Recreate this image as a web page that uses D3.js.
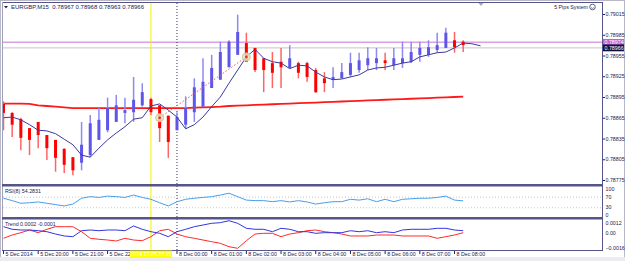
<!DOCTYPE html>
<html>
<head>
<meta charset="utf-8">
<script src="https://cdn.jsdelivr.net/npm/d3@7"></script>
<style>
body { margin: 0; background: #fff; }
svg text { font-family: "Liberation Sans", Arial, sans-serif; }
</style>
</head>
<body>
<svg id="chart" width="625" height="261"></svg>
<script>
// EURGBP M15, 5 Dec 19:00 .. 8 Dec 08:15
var opens = [0.78885,0.78872,0.78863,0.78850,0.78859,0.78840,0.78833,0.78820,0.78808,0.78800,
  0.78811,0.78833,0.78847,0.78859,0.78872,0.78873,0.78883,0.78892,0.78883,0.78868,
  0.78847,0.78855,0.78873,0.78881,0.78908,0.78920,0.78938,0.78956,0.78973,0.78966,
  0.78951,0.78944,0.78946,0.78937,0.78944,0.78944,0.78934,0.78922,0.78920,0.78922,
  0.78927,0.78934,0.78941,0.78944,0.78948,0.78941,0.78944,0.78946,0.78956,0.78956,
  0.78963,0.78966,0.78977,0.78975];
var highs = [0.78889,0.78873,0.78865,0.78850,0.78859,0.78840,0.78833,0.78821,0.78808,0.78859,
  0.78869,0.78879,0.78894,0.78898,0.78894,0.78924,0.78915,0.78894,0.78883,0.78868,
  0.78873,0.78896,0.78922,0.78951,0.78956,0.78975,0.78977,0.79014,0.78988,0.78966,
  0.78951,0.78960,0.78966,0.78970,0.78946,0.78946,0.78937,0.78931,0.78938,0.78944,
  0.78959,0.78959,0.78967,0.78966,0.78959,0.78966,0.78975,0.78975,0.78975,0.78977,
  0.78988,0.78995,0.78989,0.78977];
var lows = [0.78847,0.78837,0.78818,0.78811,0.78821,0.78804,0.78787,0.78785,0.78782,0.78789,
  0.78808,0.78833,0.78844,0.78859,0.78857,0.78859,0.78881,0.78869,0.78830,0.78807,
  0.78847,0.78850,0.78859,0.78881,0.78908,0.78920,0.78938,0.78956,0.78946,0.78931,
  0.78902,0.78908,0.78908,0.78937,0.78922,0.78917,0.78901,0.78902,0.78908,0.78922,
  0.78924,0.78930,0.78934,0.78934,0.78934,0.78934,0.78937,0.78944,0.78946,0.78953,
  0.78959,0.78966,0.78959,0.78960];
var closes = [0.78872,0.78855,0.78836,0.78833,0.78840,0.78821,0.78807,0.78797,0.78789,0.78826,
  0.78857,0.78862,0.78879,0.78883,0.78876,0.78891,0.78902,0.78873,0.78850,0.78830,
  0.78866,0.78879,0.78909,0.78917,0.78937,0.78960,0.78975,0.78989,0.78946,0.78934,
  0.78934,0.78930,0.78938,0.78951,0.78930,0.78924,0.78902,0.78915,0.78924,0.78931,
  0.78944,0.78948,0.78951,0.78951,0.78944,0.78951,0.78951,0.78960,0.78966,0.78967,
  0.78970,0.78988,0.78967,0.78970];

// fast MA is shifted 2 bars forward, so it has 2 more points
var fastMa = [0.78865,0.78866,0.78862,0.78855,0.78847,0.78846,0.78842,0.78834,0.78826,0.78811,
  0.78808,0.78821,0.78833,0.78843,0.78852,0.78863,0.78865,0.78882,0.78885,0.78876,
  0.78866,0.78849,0.78855,0.78866,0.78881,0.78895,0.78915,0.78934,0.78953,0.78964,
  0.78951,0.78946,0.78944,0.78936,0.78941,0.78940,0.78931,0.78924,0.78920,0.78921,
  0.78924,0.78927,0.78934,0.78937,0.78938,0.78941,0.78944,0.78946,0.78953,0.78956,
  0.78959,0.78960,0.78966,0.78973,0.78972,0.78969];
var slowMa = [0.788855,0.788855,0.788855,0.78885,0.78883,0.78882,0.78881,0.78880,0.78879,0.78879,
  0.78879,0.78879,0.78879,0.78879,0.78879,0.78879,0.78879,0.78879,0.78879,0.78879,
  0.78879,0.78879,0.788795,0.78880,0.788805,0.78881,0.78882,0.788825,0.78883,0.788835,
  0.78884,0.788845,0.78885,0.788855,0.78886,0.788865,0.78887,0.788875,0.78888,0.788885,
  0.78889,0.788895,0.78890,0.788905,0.78891,0.788915,0.78892,0.788925,0.78893,0.788935,
  0.78894,0.788945,0.78895,0.788955];

var rsi = [64,55,45,47,50,45,40,35,42,64,
  70,67,72,70,67,76,67,60,47,35,
  51,60,64,67,70,76,83,70,57,55,
  55,51,55,50,55,50,42,47,51,51,
  60,57,62,51,60,51,60,62,64,64,
  67,72,57,54.28];

var trendBlue = [0.00073,0.00044,0.00036,0.00036,0.00028,0.00017,-0.00009,-0.00031,-0.00039,0.00028,
  0.00036,0.00028,0.00036,0.00036,0.00028,0.00081,0.00044,0.00017,-0.00001,-0.00039,
  0.00017,0.00044,0.00073,0.00092,0.00111,0.00118,0.0014,0.00111,0.00055,0.00044,
  0.00044,0.00017,0.00055,0.00044,0.00017,0.00017,-0.00001,0.00006,0.00006,0.00006,
  0.00028,0.00017,0.00028,0.00006,0.00017,0.00006,0.00036,0.00044,0.00044,0.00044,
  0.00055,0.00055,0.00036,0.00028];
var trendRed = [-0.00057,-0.0002,0.00006,0.00036,0.00006,0.00044,0.00073,0.00073,0.00073,0.00017,
  -0.00057,-0.00068,-0.00076,-0.00087,-0.00057,-0.00076,-0.00084,-0.00039,0.00028,0.00044,
  -0.00009,-0.00039,-0.00057,-0.00076,-0.00095,-0.00113,-0.00151,-0.00169,-0.00084,-0.00009,
  -0.00001,-0.00001,-0.00039,-0.00009,0.00006,0.00028,0.00036,0.00017,0.00006,-0.00009,
  -0.00031,-0.00031,-0.00031,-0.0002,-0.0002,-0.0002,-0.00031,-0.00031,-0.00031,-0.00031,
  -0.00057,-0.00039,-0.0002,0.00006];

var signalIdx = [18, 28];
var signalPrice = [0.78865, 0.78953];

var priceTicks = [0.79015,0.78985,0.78955,0.78925,0.78895,0.78865,0.78835,0.78805,0.78775];
var rsiTicks = [100, 70, 30, 0];
var rsiLevels = [70, 30];
var trendTicks = [0.0012, 0, -0.0016];
// 5 Dec 23:00 sits under the cursor tag, so it is left out
var timeIdx = [0,4,8,12,20,24,28,32,36,40,44,48,52];
var timeText = ["5 Dec 2014","5 Dec 20:00","5 Dec 21:00","5 Dec 22:00",
  "8 Dec 00:00","8 Dec 01:00","8 Dec 02:00","8 Dec 03:00","8 Dec 04:00",
  "8 Dec 05:00","8 Dec 06:00","8 Dec 07:00","8 Dec 08:00"];

var askPrice = 0.78974, bidPrice = 0.78966;
var cursorIdx = 17, cursorText = "2014.12.05 23:15";
var dayIdx = 20;

var frame = "#55558a", ink = "#22224e", fs = "5.3px";
var left = 3, right = 602;
var mainTop = 3, mainBot = 184, rsiBot = 217, trBot = 250;

var svg = d3.select("#chart");

var x = d3.scaleLinear().domain([0, 53]).range([3.5, 463.2]);
var y = d3.scaleLinear().domain([0.78775, 0.79015]).range([180, 14]);
var yr = d3.scaleLinear().domain([0, 100]).range([215.2, 188.7]);
var yt = d3.scaleLinear().domain([-0.0016, 0.0012]).range([247.5, 222.5]);

// outer frame
svg.append("rect").attr("x", 0.5).attr("y", 0.5).attr("width", 624).attr("height", 260)
  .attr("fill", "#fff").attr("stroke", "#b8b8c8");
svg.append("rect").attr("x", 0).attr("y", 257).attr("width", 625).attr("height", 4).attr("fill", "#ececf0");

svg.append("clipPath").attr("id", "mainclip").append("rect")
  .attr("x", left).attr("y", mainTop).attr("width", right - left).attr("height", mainBot - mainTop);
svg.append("clipPath").attr("id", "timeclip").append("rect")
  .attr("x", 0).attr("y", trBot).attr("width", x(cursorIdx) - 21).attr("height", 10);

// rsi level lines
svg.selectAll(".lvl").data(rsiLevels).enter().append("line")
  .attr("x1", left).attr("x2", right)
  .attr("y1", function(d) { return yr(d) + 0.5; }).attr("y2", function(d) { return yr(d) + 0.5; })
  .attr("stroke", "#c8c8c8").attr("stroke-dasharray", "1,2");

// ask / bid lines
svg.append("line").attr("x1", left).attr("x2", right).attr("y1", y(askPrice)).attr("y2", y(askPrice))
  .attr("stroke", "#d9a0e6").attr("stroke-width", 1.5);
svg.append("line").attr("x1", left).attr("x2", right).attr("y1", y(bidPrice)).attr("y2", y(bidPrice))
  .attr("stroke", "#c4c4c4").attr("stroke-width", 1);

// cursor line + day separator
svg.append("line").attr("x1", x(cursorIdx)).attr("x2", x(cursorIdx)).attr("y1", mainTop).attr("y2", trBot)
  .attr("stroke", "#f4f000").attr("stroke-width", 1);
svg.append("line").attr("x1", x(dayIdx)).attr("x2", x(dayIdx)).attr("y1", mainTop).attr("y2", trBot)
  .attr("stroke", "#303068").attr("stroke-dasharray", "1,2");

var main = svg.append("g").attr("clip-path", "url(#mainclip)");

// slow MA (thick red)
main.append("path").datum(slowMa)
  .attr("d", d3.line().x(function(d, i) { return x(i); }).y(function(d) { return y(d); }))
  .attr("fill", "none").attr("stroke", "#ff1a1a").attr("stroke-width", 1.8);

// candles
var idx = d3.range(opens.length);
main.selectAll(".wick").data(idx).enter().append("line")
  .attr("x1", function(i) { return x(i); }).attr("x2", function(i) { return x(i); })
  .attr("y1", function(i) { return y(highs[i]); }).attr("y2", function(i) { return y(lows[i]); })
  .attr("stroke", function(i) { return closes[i] >= opens[i] ? "#8f88f2" : "#ff6464"; })
  .attr("stroke-width", 1.5);
main.selectAll(".body").data(idx).enter().append("rect")
  .attr("x", function(i) { return x(i) - 1.5; })
  .attr("width", 3)
  .attr("y", function(i) { return y(Math.max(opens[i], closes[i])); })
  .attr("height", function(i) { return Math.max(1, Math.abs(y(opens[i]) - y(closes[i]))); })
  .attr("fill", function(i) { return closes[i] >= opens[i] ? "#5f55e8" : "#ff0000"; });

// fast MA (thin dark blue)
main.append("path").datum(fastMa)
  .attr("d", d3.line().x(function(d, i) { return x(i); }).y(function(d) { return y(d); }))
  .attr("fill", "none").attr("stroke", "#3a3a9e").attr("stroke-width", 1);

// signal connector + markers
main.append("line")
  .attr("x1", x(signalIdx[0])).attr("y1", y(signalPrice[0]))
  .attr("x2", x(signalIdx[1])).attr("y2", y(signalPrice[1]))
  .attr("stroke", "#ff5050").attr("stroke-dasharray", "1.5,2");
main.selectAll(".sig").data(signalIdx).enter().append("circle")
  .attr("cx", function(d) { return x(d); }).attr("cy", function(d, i) { return y(signalPrice[i]); })
  .attr("r", 4).attr("fill", "#e6e0c4").attr("fill-opacity", 0.85).attr("stroke", "#cfc79c");
main.selectAll(".sigdot").data(signalIdx).enter().append("circle")
  .attr("cx", function(d) { return x(d); }).attr("cy", function(d, i) { return y(signalPrice[i]); })
  .attr("r", 1.3).attr("fill", "#ff2020");

// rsi line
svg.append("path").datum(rsi)
  .attr("d", d3.line().x(function(d, i) { return x(i); }).y(function(d) { return yr(d); }))
  .attr("fill", "none").attr("stroke", "#4a9ee8").attr("stroke-width", 1);

// trend lines
svg.append("path").datum(trendRed)
  .attr("d", d3.line().x(function(d, i) { return x(i); }).y(function(d) { return yt(d); }))
  .attr("fill", "none").attr("stroke", "#ff2a2a").attr("stroke-width", 1);
svg.append("path").datum(trendBlue)
  .attr("d", d3.line().x(function(d, i) { return x(i); }).y(function(d) { return yt(d); }))
  .attr("fill", "none").attr("stroke", "#3434e0").attr("stroke-width", 1);

// panel frames
svg.append("line").attr("x1", left - 1).attr("x2", right).attr("y1", mainTop - 0.5).attr("y2", mainTop - 0.5)
  .attr("stroke", frame);
svg.append("line").attr("x1", left - 0.5).attr("x2", left - 0.5).attr("y1", mainTop - 1).attr("y2", trBot)
  .attr("stroke", "#a0a0b8");
[mainBot, rsiBot].forEach(function(v) {
  svg.append("rect").attr("x", left - 1).attr("y", v).attr("width", right - left + 1).attr("height", 2.5).attr("fill", frame);
});
svg.append("line").attr("x1", left - 1).attr("x2", right).attr("y1", trBot + 0.5).attr("y2", trBot + 0.5).attr("stroke", frame);
svg.append("line").attr("x1", right + 0.5).attr("x2", right + 0.5).attr("y1", mainTop - 1).attr("y2", trBot + 1)
  .attr("stroke", frame);

// axes
function styleAxis(g) {
  g.select(".domain").remove();
  g.selectAll(".tick line").attr("stroke", ink);
  g.selectAll(".tick text").attr("fill", ink).attr("font-size", fs).attr("x", 2.5);
}
svg.append("g").attr("transform", "translate(" + (right + 1) + ",0)")
  .call(d3.axisRight(y).tickValues(priceTicks).tickSize(2).tickFormat(d3.format(".5f")))
  .call(styleAxis);
svg.append("g").attr("transform", "translate(" + (right + 1) + ",0)")
  .call(d3.axisRight(yr).tickValues(rsiTicks).tickSize(0).tickFormat(d3.format("d")))
  .call(styleAxis);
svg.append("g").attr("transform", "translate(" + (right + 1) + ",0)")
  .call(d3.axisRight(yt).tickValues(trendTicks).tickSize(0)
    .tickFormat(function(d) { return d === 0 ? "0.00" : d3.format(".4f")(d); }))
  .call(styleAxis);

// ask / bid price tags
[[askPrice, "#c45ed6"], [bidPrice, "#10103c"]].forEach(function(p) {
  svg.append("rect").attr("x", right + 1).attr("y", y(p[0]) - 3.4).attr("width", 21).attr("height", 6.8)
    .attr("fill", p[1]);
  svg.append("text").attr("x", right + 2.5).attr("y", y(p[0]) + 1.9).attr("fill", "#fff")
    .attr("font-size", fs).text(d3.format(".5f")(p[0]));
});

// time axis
var tl = svg.append("g");
tl.selectAll("line").data(timeIdx).enter().append("line")
  .attr("x1", function(d) { return x(d); }).attr("x2", function(d) { return x(d); })
  .attr("y1", trBot + 1).attr("y2", trBot + 4).attr("stroke", ink);
tl.selectAll("text").data(timeIdx).enter().append("text")
  .attr("x", function(d) { return x(d) + 2; }).attr("y", 256)
  .attr("clip-path", function(d) { return d < cursorIdx ? "url(#timeclip)" : null; })
  .attr("fill", ink).attr("font-size", fs)
  .text(function(d, i) { return timeText[i]; });
svg.append("rect").attr("x", x(cursorIdx) - 21).attr("y", trBot + 0.5).attr("width", 42).attr("height", 7.5)
  .attr("fill", "#ffff00");
svg.append("text").attr("x", x(cursorIdx)).attr("y", 256.3).attr("text-anchor", "middle")
  .attr("fill", "#fff").attr("font-size", fs).text(cursorText);

// labels
svg.append("path").attr("d", "M4,6 L8,6 L6,8.5 Z").attr("fill", ink);
svg.append("text").attr("x", 11).attr("y", 9).attr("fill", ink).attr("font-size", "6px")
  .attr("xml:space", "preserve")
  .text("EURGBP,M15  0.78967 0.78968 0.78963 0.78966");
svg.append("text").attr("x", 588).attr("y", 9).attr("text-anchor", "end").attr("fill", ink)
  .attr("font-size", fs).text("5 Pips System");
svg.append("circle").attr("cx", 592.5).attr("cy", 7).attr("r", 2.8).attr("fill", "none").attr("stroke", ink).attr("stroke-width", 0.7);
svg.append("path").attr("d", "M591,7.6 Q592.5,9.2 594,7.6").attr("fill", "none").attr("stroke", ink).attr("stroke-width", 0.5);
svg.append("path").attr("d", "M478.5,3 L483.5,3 L481,6 Z").attr("fill", "#a8a8b8");
svg.append("text").attr("x", 5).attr("y", 193).attr("fill", ink).attr("font-size", fs).text("RSI(8) 54.2831");
svg.append("text").attr("x", 5).attr("y", 226).attr("fill", ink).attr("font-size", fs).text("Trend 0.0002 -0.0001");
</script>
</body>
</html>
